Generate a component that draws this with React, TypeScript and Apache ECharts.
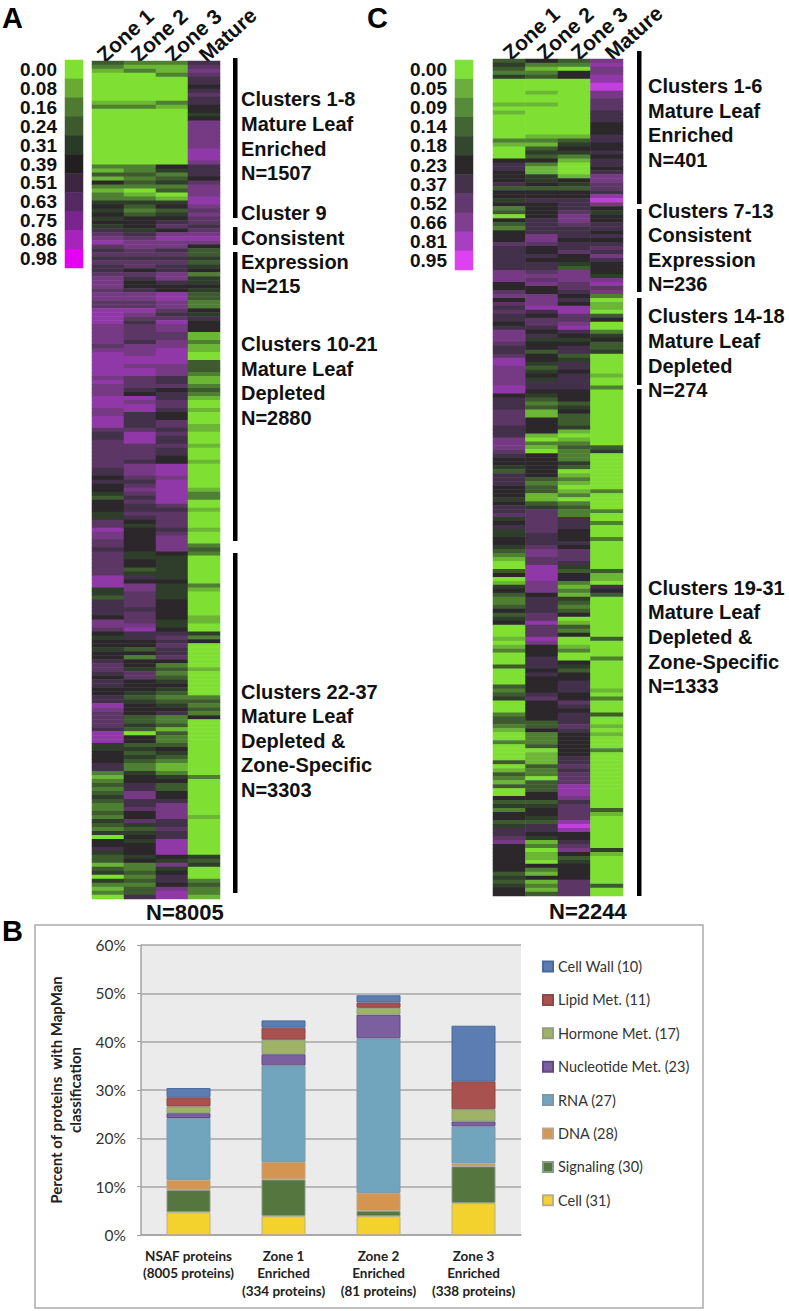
import React, { useEffect, useRef } from "react";
import * as echarts from "echarts";

// ---------- heat map rows: legend level (0-10) per row, "n*k" = n repeated k times ----------
const zoneA1 = "3 2 1 0*7 1 2 0*14 2 1 3 1 5 2 1 2 2 4 5 4 5 4 5 4 6 7 8 9 7 6 7 6 7 6 6 7 8 8 8 7 8 8 " +
  "7 7 9*4 8*5 7 8 9*6 8 9 8 8 8 9 9 9 8 8 9 9 9 7 6 6 7*7 6 6 5 6 5 5 4 3 5 5 5 4 4 7 7 9 8 8 7 7 6 7 7 7 7 7 7 9 9 9 4 4 3 6 6 6 " +
  "6 5 8 8 7 5 4 5 5 4 5 5 6 7 7 6 5 6 6 5 5 6 6 9 8 7 7 7 7 6 9 9 9 4 4 5 5 5 6 6 2 1 2 3 2 3 4 3 2 2 3 2 4 3 2 4 0 5 5 6 4 3 3 1 3 4 0 4 2 1 2 0";
const zoneA2 = "2 1 2 0*7 1 2 0*14 2 2 3 2 3 2 0 1 2 4 3 2 3 5 5 5 4 6 7 8 8 7 7 6 7 7 5 7 6 5 5 6 8 8 " +
  "7 7 9 8 7 6 7 7 7 7 6 8 8 8 9 9 8 9 9 7 7 7 6 5 9 8 9 9 6 6 6 6 7 9 9 9 7 7 7 7 6 8 8 8 7 6 7 8 7 6 7 6 6 7 6 5 4 5 5 5 5 5 5 4 4 5 5 3 4 6 5 8 8 7 7 7 7 6 " +
  "7 7 7 8 9 6 6 5 5 3 5 2 5 5 4 7 7 5 5 5 4 3 4 5 5 5 3 3 4 3 0 5 5 3 4 3 4 3 2 2 4 5 5 6 6 8 8 6 6 7 5 5 7 4 3 4 5 4 5 5 5 4 5 2 2 3 2 3 2 3 3 6";
const zoneA3 = "2 1 1 2 0*6 2 1 0*14 5 4 2 3 4 2 3 0 1 4 5 3 4 5 6 7 5 8 9 8 8 6 7 6 7 6 6 8 8 6 5 5 9 9 " +
  "8 8 7 6 7 9 8 8 7 7 8 8 9 9 9 9 8 8 8 6 6 7 5 6 6 7 7 6 5 5 7 7 6 7 6 6 7 6 6 5 5 9 9 9 8 9 9 9 9 9 9 7 6 7 7 7 7 6 7 8 8 8 8 5 4 4 4 4 4 4 5 4 4 4 4 5 5 5 " +
  "5 5 4 4 5 6 7 6 7 6 6 7 5 2 3 2 3 4 5 4 3 2 3 4 5 6 2 2 3 1 3 2 2 3 5 4 3 2 1 1 2 4 5 3 3 5 5 6 8 8 8 8 6 6 7 6 6 9 9 9 9 5 4 8 4 5 6 6 5 8 9 9";
const matureA = "6 7 8 7 6 6 5 6 7 6 6 5 5 4 5 8*7 9 9 9 8 6 6 6 5 7 8 8 8 9 9 8 7 8 7 7 6 7 8 9 8 5 3 3 4 3 4 5 2 4 4 5 4 3 3 " +
  "2 2 5 4 6 5 5 5 1 1 2 1 1 0 0 3 3 3 2 1 1 2 3 2 1 0 0 1 0 0 0 1 1 0 0 0 1 0 0 0 1 0 0 0 0 0 0 1 2 2 0 0 1 0 0 0 0 1 0 0 0 2 3 2 0*7 2 1 0*5 " +
  "0 1 1 0 0 4 2 5 0*6 1 0*6 2 3 2 3 2 5 0*14 2 0*9 1 0*9 4 3 4 0*3 2 3 2 2 1";

const zoneC1 = "3 4 3 2 4 0*2 0 0*3 1 0 1 0*6 2 1 0 0 0 5 6 6 5 5 5 6 3 5 5 4 5 2 3 0 5 3 2 5 5 5 7 6 6 6 6 6 6 8 8 8 5 5 7 8 " +
  "5 7 6 7 6 6 5 6 8 8 8 7 6 6 7 9 9 8*5 9 9 5 6 6 6 7 7 7 7 6 6 6 8 8 8 7 6 5 5 4 3 6 6 6 5 5 5 4 5 6 6 7 4 5 6 4 4 5 5 4 3 2 1 0 0 3 5 0 1 4 5 3 2 2 3 " +
  "5 3 4 5 0*3 1 0 1 2 0*3 3 0*4 3 2 3 4 0*3 2 3 3 2 1 0 0 2 0 0 0 0 3 0 1 3 2 1 3 0 0 5 3 4 2 5 5 3 4 6 6 7 8 5*7 3 4 3 4 5 5";
const zoneC2 = "5 2 1 2 3 0 0 0 1 0 0 1 0 0 0*5 1 2 1 3 4 3 5 2 1 1 4 4 5 3 5 5 6 5 5 5 5 6 6 6 6 8 8 7 5 5 6 5 6 6 7 8 7 8 5 5 8 " +
  "8 8 9 6 5 7 7 6 5 6 4 5 5 3 5 5 4 3 4 5 4 6 6 5 4 3 2 3 1 1 5 5 5 5 1 0 2 1 0 5*6 3 2 3 3 1 1 3 4 7*6 6 6 6 7 8 8 7 7 9*4 8 8 8 5 6 6 6 " +
  "6 7 7 9 7 7 7 9 8 5 5 5 6 6 6 5 6 5 5 5 5 6 7 5 5 5 5 5 3 3 5 2 2 2 3 0 1 1 1 3 2 2 0 3 3 3 5 5 3 4 5 5 4 3 6 6 5 4 1 2 0 1 1 0 5 2 1 5 1 2 1 3";
const zoneC3 = "3 2 0 5 5 0*14 1 3 4 5 4 2 1 0 0 0 1 5 4 3 5 5 6 6 6 7 8 8 7 6 6 6 5 6 6 7 5 5 4 3 8 8 8 7 7 6 5 " +
  "6 5 9 9 7 7 8 9 6 5 4 5 6 6 3 4 6 6 5 6 6 6 6 5 5 5 3 4 5 3 3 3 4 1 0 1 2 3 2 2 2 4 3 0 1 2 1 0 1 2 0 2 3 2 2 6 6 6 5 5 5 6 5 7 7 7 6 4 3 5 5 2 1 2 1 4 3 2 " +
  "3 5 0 1 3 2 5 0 0 1 2 0 0 5 4 3 5 5 6 6 6 5 5 7 6 5 6 6 6 7 6 5 5 5 5 5 5 6 6 7 6 7 7 7 9 9 9 8 6 7 7 7 7 9 10 9 5 5 6 7 8 5 3 4 5 5 5 5 7 7 7 7";
const matureC = "8 9 8 8 9 9 10 10 8 8 7 7 7 6 6 6 5 5 5 6 6 5 5 6 5 6 6 5 6 8 8 7 7 6 9 10 8 5 4 5 5 6 6 5 6 5 6 7 6 8 6 5 5 5 4 8 9 7 8 2 " +
  "0 1 1 0 3 5 0 0 2 4 5 3 3 4 0*5 1 0 0 2 0 0*12 0 3 4 0*9 2 0 0 0 0 2 0 0 2 0 0 0 2 0*7 3 1 1 0 6 5 3 0 0 0 " +
  "0*7 3 0*4 2 0*7 1 0 2 0 0 0 3 0 0 1 0 1 0 0 0 2 0*14 3 1 0*8 4 1 0*6 0 3 0 0";

const columns = ["Zone 1", "Zone 2", "Zone 3", "Mature"];
const legendTicksA = ["0.00", "0.08", "0.16", "0.24", "0.31", "0.39", "0.51", "0.63", "0.75", "0.86", "0.98"];
const legendTicksC = ["0.00", "0.05", "0.09", "0.14", "0.18", "0.23", "0.37", "0.52", "0.66", "0.81", "0.95"];

// ---------- stacked bars ----------
const barCategories = ["NSAF proteins\n(8005 proteins)", "Zone 1\nEnriched\n(334 proteins)", "Zone 2\nEnriched\n(81 proteins)", "Zone 3\nEnriched\n(338 proteins)"];
const cellVals = [4.7, 3.9, 3.9, 6.6];
const signalingVals = [4.6, 7.6, 1.1, 7.6];
const dnaVals = [2.1, 3.6, 3.7, 0.6];
const rnaVals = [12.8, 20.0, 32.0, 7.7];
const nucleotideVals = [1.0, 2.3, 4.9, 1.0];
const hormoneVals = [1.4, 3.0, 1.4, 2.5];
const lipidVals = [1.9, 2.5, 1.1, 5.8];
const wallVals = [1.9, 1.5, 1.5, 11.5];

const FONT = "'Liberation Sans', Arial, sans-serif";
const CHART_FONT = "Lato, sans-serif";

const heatPalette = ["#7fe033", "#6cb636", "#4f7f33", "#3e5b30", "#2e3e2a", "#2b272b", "#43304a", "#5c3665", "#763a84", "#9038a8", "#c43fe0"];
const legendPaletteA = ["#7fe033", "#6aaa34", "#4f7a32", "#3c5a2c", "#293a27", "#231f20", "#3c2640", "#552a63", "#7a2490", "#a723bb", "#e600f2"];
const legendPaletteC = ["#7fe23a", "#6cae3d", "#578b3c", "#436534", "#33472f", "#2a2829", "#43324a", "#62396f", "#7f3e8f", "#a83fc2", "#dd42f0"];

function expand(s: string): number[] {
  const out: number[] = [];
  s.trim().split(/\s+/).forEach((t) => {
    const [v, n] = t.split("*");
    for (let i = 0; i < (n ? +n : 1); i++) out.push(+v);
  });
  return out;
}

function heatData(cols: string[]) {
  const data: number[][] = [];
  cols.forEach((c, x) => expand(c).forEach((v, y) => data.push([x, y, v])));
  return data;
}

const ROW_COUNT = 210;
const rowNames = Array.from({ length: ROW_COUNT }, (_, i) => String(i));

function legendData(ticks: string[]) {
  return ticks.map((_, i) => [0, i, i]);
}

function labelBlock(x: number, lines: [string, number][]) {
  return lines.map(([text, y]) => ({
    type: "text",
    x,
    y,
    style: { text, font: `bold 20px ${FONT}`, fill: "#111", textVerticalAlign: "middle" },
  }));
}

function bar(x: number, y0: number, y1: number) {
  return { type: "rect", shape: { x, y: y0, width: 4.5, height: y1 - y0 }, style: { fill: "#000" } };
}

function letter(text: string, x: number, y: number) {
  return { type: "text", x, y, style: { text, font: `bold 29px ${FONT}`, fill: "#000", textVerticalAlign: "middle" } };
}

function nLabel(text: string, x: number, y: number) {
  return { type: "text", x, y, style: { text, font: `bold 22px ${FONT}`, fill: "#111", textVerticalAlign: "middle" } };
}

function stack(name: string, data: number[], color: string, border: string) {
  return {
    name,
    type: "bar",
    stack: "all",
    xAxisIndex: 4,
    yAxisIndex: 4,
    barWidth: 44,
    data,
    itemStyle: { color, borderColor: border, borderWidth: 1 },
  };
}

export default function App() {
  const ref = useRef<HTMLDivElement>(null);
  useEffect(() => {
    const chart = echarts.init(ref.current!, undefined, { renderer: "svg" });
    const heatX = (gridIndex: number) => ({ type: "category", gridIndex, data: columns, show: false });
    const labelX = (gridIndex: number) => ({
      type: "category",
      gridIndex,
      data: columns,
      position: "top",
      axisLine: { show: false },
      axisTick: { show: false },
      axisLabel: { rotate: -42, margin: 3, interval: 0, fontFamily: FONT, fontWeight: "bold", fontSize: 21, color: "#111" },
    });
    const hiddenY = (gridIndex: number) => ({
      type: "category",
      gridIndex,
      data: rowNames,
      inverse: true,
      show: false,
    });
    const legX = (gridIndex: number) => ({ type: "category", gridIndex, data: ["level"], show: false });
    const legY = (gridIndex: number, ticks: string[]) => ({
      type: "category",
      gridIndex,
      data: ticks,
      inverse: true,
      axisLine: { show: false },
      axisTick: { show: false },
      axisLabel: { margin: 8, padding: [6, 0, 0, 0], interval: 0, fontFamily: FONT, fontWeight: "bold", fontSize: 19, color: "#111" },
    });
    chart.setOption({
      animation: false,
      backgroundColor: "#fff",
      grid: [
        { left: 65, top: 60, width: 18, height: 208 },
        { left: 92, top: 61, width: 128, height: 838 },
        { left: 455, top: 60, width: 18, height: 210 },
        { left: 493, top: 59, width: 130, height: 837 },
        { left: 141, top: 945, width: 380, height: 290, show: true, backgroundColor: "#ebebeb", borderWidth: 0 },
        { left: 83, top: 61, width: 136, height: 10 },
        { left: 489, top: 59, width: 136, height: 10 },
      ],
      xAxis: [
        legX(0),
        heatX(1),
        legX(2),
        heatX(3),
        {
          type: "category",
          gridIndex: 4,
          data: barCategories,
          axisLine: { lineStyle: { color: "#a3a3a3", width: 1.5 } },
          axisTick: { lineStyle: { color: "#a3a3a3" }, length: 3 },
          axisLabel: { margin: 12, interval: 0, lineHeight: 17.5, fontFamily: CHART_FONT, fontWeight: "bold", fontSize: 13.5, color: "#222" },
        },
        labelX(5),
        labelX(6),
      ],
      yAxis: [
        legY(0, legendTicksA),
        hiddenY(1),
        legY(2, legendTicksC),
        hiddenY(3),
        {
          type: "value",
          gridIndex: 4,
          min: 0,
          max: 60,
          interval: 10,
          name: "Percent of proteins  with MapMan\nclassification",
          nameLocation: "middle",
          nameGap: 57,
          nameRotate: 90,
          nameTextStyle: { fontFamily: CHART_FONT, fontWeight: "bold", fontSize: 15, lineHeight: 19, color: "#222" },
          axisLine: { show: true, lineStyle: { color: "#a3a3a3", width: 1.5 } },
          axisTick: { show: true, length: 4, lineStyle: { color: "#a3a3a3" } },
          axisLabel: { margin: 15, formatter: "{value}%", fontFamily: CHART_FONT, fontSize: 15.5, color: "#333" },
          splitLine: { lineStyle: { color: "#a6a6a6", width: 1.5 } },
        },
        hiddenY(5),
        hiddenY(6),
      ],
      visualMap: [
        { show: false, type: "continuous", min: 0, max: 10, seriesIndex: 0, inRange: { color: legendPaletteA } },
        { show: false, type: "continuous", min: 0, max: 10, seriesIndex: 1, inRange: { color: heatPalette } },
        { show: false, type: "continuous", min: 0, max: 10, seriesIndex: 2, inRange: { color: legendPaletteC } },
        { show: false, type: "continuous", min: 0, max: 10, seriesIndex: 3, inRange: { color: heatPalette } },
      ],
      legend: {
        left: 542,
        top: 958,
        padding: 0,
        orient: "vertical",
        itemWidth: 10,
        itemHeight: 10,
        itemGap: 16.4,
        icon: "rect",
        data: ["Cell Wall (10)", "Lipid Met. (11)", "Hormone Met. (17)", "Nucleotide Met. (23)", "RNA (27)", "DNA (28)", "Signaling (30)", "Cell (31)"],
        textStyle: { fontFamily: CHART_FONT, fontSize: 14.5, lineHeight: 17, color: "#333" },
      },
      series: [
        { type: "heatmap", xAxisIndex: 0, yAxisIndex: 0, data: legendData(legendTicksA) },
        { type: "heatmap", xAxisIndex: 1, yAxisIndex: 1, data: heatData([zoneA1, zoneA2, zoneA3, matureA]) },
        { type: "heatmap", xAxisIndex: 2, yAxisIndex: 2, data: legendData(legendTicksC) },
        { type: "heatmap", xAxisIndex: 3, yAxisIndex: 3, data: heatData([zoneC1, zoneC2, zoneC3, matureC]) },
        stack("Cell (31)", cellVals, "#f4d22e", "#b9b08a"),
        stack("Signaling (30)", signalingVals, "#55763f", "#8a9a88"),
        stack("DNA (28)", dnaVals, "#d39550", "#b9a68c"),
        stack("RNA (27)", rnaVals, "#70a5bd", "#7f98a8"),
        stack("Nucleotide Met. (23)", nucleotideVals, "#7b5f9f", "#5f4a86"),
        stack("Hormone Met. (17)", hormoneVals, "#a0b266", "#8f9f80"),
        stack("Lipid Met. (11)", lipidVals, "#a8514f", "#8a4a48"),
        stack("Cell Wall (10)", wallVals, "#5b7db1", "#4a6a9e"),
      ],
      graphic: [
        { type: "rect", z: -1, shape: { x: 35, y: 925, width: 668, height: 383 }, style: { fill: "none", stroke: "#ababab", lineWidth: 1.5 } },
        letter("A", 2, 18),
        letter("C", 367, 18),
        letter("B", 2, 931),
        bar(233, 58, 218),
        bar(233, 227, 245),
        bar(233, 252, 541),
        bar(233, 553, 893),
        bar(637, 51, 204),
        bar(637, 209, 292),
        bar(637, 298, 385),
        bar(637, 389, 896),
        ...labelBlock(241, [
          ["Clusters 1-8", 99], ["Mature Leaf", 124], ["Enriched", 149], ["N=1507", 173],
          ["Cluster 9", 213], ["Consistent", 238], ["Expression", 262], ["N=215", 286],
          ["Clusters 10-21", 344], ["Mature Leaf", 369], ["Depleted", 393], ["N=2880", 418],
          ["Clusters 22-37", 692], ["Mature Leaf", 716], ["Depleted &", 741], ["Zone-Specific", 765], ["N=3303", 790],
        ]),
        ...labelBlock(648, [
          ["Clusters 1-6", 86], ["Mature Leaf", 111], ["Enriched", 135], ["N=401", 160],
          ["Clusters 7-13", 211], ["Consistent", 235], ["Expression", 260], ["N=236", 284],
          ["Clusters 14-18", 316], ["Mature Leaf", 341], ["Depleted", 366], ["N=274", 390],
          ["Clusters 19-31", 588], ["Mature Leaf", 612], ["Depleted &", 637], ["Zone-Specific", 662], ["N=1333", 686],
        ]),
        nLabel("N=8005", 146, 912),
        nLabel("N=2244", 549, 911),
      ],
    });
    return () => chart.dispose();
  }, []);
  return <div ref={ref} style={{ position: "absolute", left: 0, top: 0, width: 789, height: 1311 }} />;
}
